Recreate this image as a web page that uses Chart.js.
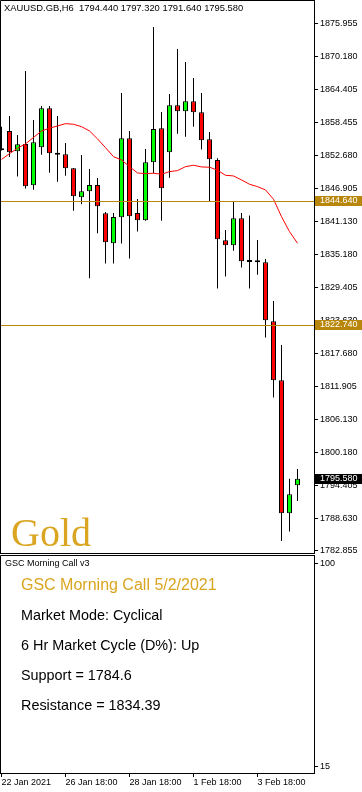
<!DOCTYPE html>
<html>
<head>
<meta charset="utf-8">
<title>XAUUSD.GB H6 - GSC Morning Call</title>
<script src="https://cdn.jsdelivr.net/npm/chart.js@4.4.1/dist/chart.umd.min.js"></script>
<style>
  html, body { margin: 0; padding: 0; background: #fff; }
  canvas { display: block; }
</style>
</head>
<body>
<canvas id="priceChart" width="362" height="555"></canvas>
<canvas id="callChart" width="362" height="237"></canvas>
<script>
const SYMBOL = "XAUUSD.GB,H6";

const CANDLE_TIMES = [
  "22 Jan 18:00",
  "25 Jan 00:00", "25 Jan 06:00", "25 Jan 12:00", "25 Jan 18:00",
  "26 Jan 00:00", "26 Jan 06:00", "26 Jan 12:00", "26 Jan 18:00",
  "27 Jan 00:00", "27 Jan 06:00", "27 Jan 12:00", "27 Jan 18:00",
  "28 Jan 00:00", "28 Jan 06:00", "28 Jan 12:00", "28 Jan 18:00",
  "29 Jan 00:00", "29 Jan 06:00", "29 Jan 12:00", "29 Jan 18:00",
  "1 Feb 00:00", "1 Feb 06:00", "1 Feb 12:00", "1 Feb 18:00",
  "2 Feb 00:00", "2 Feb 06:00", "2 Feb 12:00", "2 Feb 18:00",
  "3 Feb 00:00", "3 Feb 06:00", "3 Feb 12:00", "3 Feb 18:00",
  "4 Feb 00:00", "4 Feb 06:00", "4 Feb 12:00", "4 Feb 18:00",
  "5 Feb 00:00",
];

const OPEN = [
  1854.00, 1857.05, 1853.46, 1854.75, 1847.46, 1854.17, 1861.06, 1853.20, 1852.93, 1850.46,
  1845.34, 1846.40, 1847.51, 1842.51, 1837.21, 1841.80, 1855.76, 1842.56, 1841.27, 1851.52,
  1857.53, 1853.29, 1861.59, 1860.53, 1862.30, 1860.35, 1855.58, 1851.93, 1837.74, 1836.86,
  1841.63, 1834.25, 1834.21, 1833.85, 1823.43, 1813.00, 1789.51, 1794.44,
];
const HIGH = [
  1857.80, 1859.70, 1856.35, 1867.65, 1859.00, 1861.47, 1861.47, 1859.70, 1854.93, 1850.50,
  1852.81, 1850.34, 1848.75, 1842.74, 1842.56, 1863.76, 1857.05, 1845.04, 1853.87, 1875.43,
  1860.41, 1863.59, 1871.54, 1869.24, 1866.41, 1863.76, 1856.87, 1852.23, 1839.56, 1844.51,
  1842.56, 1842.09, 1837.79, 1834.44, 1827.02, 1819.24, 1795.57, 1797.32,
];
const LOW = [
  1853.60, 1852.46, 1848.98, 1846.86, 1846.68, 1852.86, 1849.68, 1848.09, 1849.15, 1842.97,
  1844.10, 1831.03, 1838.98, 1833.61, 1833.61, 1837.14, 1834.49, 1839.26, 1841.20, 1849.58,
  1841.20, 1848.80, 1856.57, 1856.04, 1857.81, 1853.75, 1844.68, 1829.19, 1831.31, 1835.90,
  1832.90, 1829.19, 1831.66, 1820.53, 1809.93, 1784.60, 1786.26, 1791.64,
];
const CLOSE = [
  1853.65, 1853.29, 1854.70, 1847.28, 1855.06, 1861.06, 1853.11, 1852.85, 1850.46, 1845.51,
  1846.40, 1847.51, 1843.75, 1837.39, 1841.86, 1855.76, 1841.98, 1841.27, 1851.52, 1857.40,
  1846.93, 1861.59, 1860.53, 1862.30, 1860.35, 1855.41, 1852.05, 1837.92, 1836.86, 1841.63,
  1834.03, 1833.90, 1833.85, 1823.61, 1813.00, 1789.51, 1792.86, 1795.58,
];

// red moving average
const MA = [
  1852.02, 1853.04, 1854.00, 1854.75, 1855.90, 1857.05, 1857.53, 1857.93, 1858.34, 1858.23,
  1857.81, 1857.05, 1855.64, 1854.10, 1852.51, 1851.93, 1850.74, 1849.63, 1849.51, 1849.58,
  1849.40, 1849.86, 1850.04, 1850.74, 1850.99, 1850.69, 1850.64, 1850.11, 1849.22, 1849.10,
  1848.40, 1847.63, 1847.21, 1846.63, 1844.98, 1841.91, 1839.26, 1837.21,
];

const PRICE_TICKS = [
  1875.955, 1870.180, 1864.405, 1858.455, 1852.680, 1846.905, 1841.130, 1835.180, 1829.405,
  1823.630, 1817.680, 1811.905, 1806.130, 1800.180, 1794.405, 1788.630, 1782.855,
];
const LEVELS = [1844.64, 1822.74];

const TIME_TICKS = [0, 8, 16, 24, 32];
const TIME_TICK_LABELS = ["22 Jan 2021", "26 Jan 18:00", "28 Jan 18:00", "1 Feb 18:00", "3 Feb 18:00"];

const PANEL_NAME = "GSC Morning Call v3";
const PANEL_TICKS = [15, 100];
const CALL_TITLE = "GSC Morning Call 5/2/2021";
const CALL_LINES = [
  "Market Mode: Cyclical",
  "6 Hr Market Cycle (D%): Up",
  "Support = 1784.6",
  "Resistance = 1834.39",
];

const SANS = "'Liberation Sans', Arial, sans-serif";
const GOLD_LINE = "#b8860b";
const GOLD_TEXT = "#daa520";
const UP = "#00ff00";
const DOWN = "#ff0000";

// view: 8px per bar, bar 0 sits 1.5px from the left edge
const X_MIN = -0.1875;
const X_MAX = X_MIN + 314 / 8;

Chart.defaults.font.family = SANS;
Chart.defaults.color = "#000";
Chart.defaults.animation = false;

const pts = (arr) => arr.map((v, i) => ({ x: i, y: v }));
const noPad = (s) => { s.paddingTop = 0; s.paddingBottom = 0; s.paddingLeft = 0; s.paddingRight = 0; };

function priceTag(ctx, area, scale, value, bg) {
  const y = scale.getPixelForValue(value);
  ctx.fillStyle = bg;
  ctx.fillRect(area.right + 1, Math.round(y) - 5, 47, 10);
  ctx.fillStyle = "#fff";
  ctx.font = `9px ${SANS}`;
  ctx.textAlign = "left";
  ctx.textBaseline = "middle";
  ctx.fillText(value.toFixed(3), area.right + 6, Math.round(y));
}

const priceOverlay = {
  id: "priceOverlay",
  afterDraw(chart) {
    const { ctx, chartArea: a, scales } = chart;
    const y = scales.y;
    ctx.save();

    // level lines
    ctx.strokeStyle = GOLD_LINE;
    ctx.lineWidth = 1;
    LEVELS.forEach((lv) => {
      const py = Math.round(y.getPixelForValue(lv)) + 0.5;
      ctx.beginPath();
      ctx.moveTo(a.left, py);
      ctx.lineTo(a.right, py);
      ctx.stroke();
    });

    // frame
    ctx.strokeStyle = "#000";
    ctx.beginPath();
    ctx.moveTo(a.left + 0.5, a.bottom + 0.5);
    ctx.lineTo(a.left + 0.5, a.top + 0.5);
    ctx.lineTo(a.right + 0.5, a.top + 0.5);
    ctx.moveTo(a.left, a.bottom + 0.5);
    ctx.lineTo(a.right + 1, a.bottom + 0.5);
    ctx.stroke();

    // header
    const n = CLOSE.length - 1;
    const head = `${SYMBOL}  ${OPEN[n].toFixed(3)} ${HIGH[n].toFixed(3)} ${LOW[n].toFixed(3)} ${CLOSE[n].toFixed(3)}`;
    ctx.fillStyle = "#000";
    ctx.font = `9.4px ${SANS}`;
    ctx.textAlign = "left";
    ctx.textBaseline = "middle";
    ctx.fillText(head, a.left + 4, a.top + 8);

    // watermark
    ctx.fillStyle = GOLD_TEXT;
    ctx.font = "40px 'Liberation Serif', 'Times New Roman', serif";
    ctx.textBaseline = "alphabetic";
    ctx.fillText("Gold", a.left + 11, a.bottom - 7);

    LEVELS.forEach((lv) => priceTag(ctx, a, y, lv, GOLD_LINE));
    priceTag(ctx, a, y, CLOSE[n], "#000");
    ctx.restore();
  },
};

new Chart(document.getElementById("priceChart"), {
  type: "bar",
  data: {
    datasets: [
      {
        type: "line",
        data: pts(MA),
        borderColor: "#ff0000",
        borderWidth: 1,
        pointRadius: 0,
        tension: 0,
        fill: false,
        order: 0,
      },
      {
        data: OPEN.map((o, i) => ({ x: i, y: [o, CLOSE[i]] })),
        backgroundColor: OPEN.map((o, i) => (CLOSE[i] >= o ? UP : DOWN)),
        borderColor: "#000",
        borderWidth: 1,
        borderSkipped: false,
        barThickness: 5,
        grouped: false,
        inflateAmount: 0,
        order: 1,
      },
      {
        data: LOW.map((l, i) => ({ x: i, y: [l, HIGH[i]] })),
        backgroundColor: "#000",
        borderWidth: 0,
        barThickness: 1,
        grouped: false,
        inflateAmount: 0,
        order: 2,
      },
    ],
  },
  options: {
    responsive: false,
    layout: { padding: { left: 0, right: 0, top: 0, bottom: 2 } },
    plugins: { legend: { display: false }, tooltip: { enabled: false } },
    scales: {
      x: { type: "linear", display: false, min: X_MIN, max: X_MAX, offset: false },
      y: {
        position: "right",
        min: 1782.47,
        max: 1880.19,
        afterBuildTicks: (s) => { s.ticks = PRICE_TICKS.map((v) => ({ value: v })); },
        afterFit: (s) => { s.width = 48; noPad(s); },
        ticks: { callback: (v) => Number(v).toFixed(3), font: { size: 9 }, color: "#000", padding: 2 },
        grid: { drawOnChartArea: false, drawTicks: true, tickLength: 4, color: "#000" },
        border: { display: true, color: "#000" },
      },
    },
  },
  plugins: [priceOverlay],
});

const callOverlay = {
  id: "callOverlay",
  afterDraw(chart) {
    const { ctx, chartArea: a } = chart;
    ctx.save();
    ctx.strokeStyle = "#000";
    ctx.lineWidth = 1;
    ctx.beginPath();
    ctx.moveTo(a.left + 0.5, a.bottom);
    ctx.lineTo(a.left + 0.5, a.top + 0.5);
    ctx.lineTo(a.right + 0.5, a.top + 0.5);
    ctx.stroke();

    ctx.textAlign = "left";
    ctx.textBaseline = "middle";
    ctx.fillStyle = "#000";
    ctx.font = `9px ${SANS}`;
    ctx.fillText(PANEL_NAME, a.left + 5, a.top + 9);

    ctx.fillStyle = GOLD_TEXT;
    ctx.font = `16px ${SANS}`;
    ctx.fillText(CALL_TITLE, a.left + 21, a.top + 31);

    ctx.fillStyle = "#000";
    ctx.font = `14.4px ${SANS}`;
    CALL_LINES.forEach((t, i) => ctx.fillText(t, a.left + 21, a.top + 61 + i * 30));
    ctx.restore();
  },
};

new Chart(document.getElementById("callChart"), {
  type: "line",
  data: { datasets: [{ data: [], pointRadius: 0 }] },
  options: {
    responsive: false,
    layout: { padding: 0 },
    plugins: { legend: { display: false }, tooltip: { enabled: false } },
    scales: {
      x: {
        type: "linear",
        position: "bottom",
        min: X_MIN,
        max: X_MAX,
        afterBuildTicks: (s) => { s.ticks = TIME_TICKS.map((v) => ({ value: v })); },
        afterFit: (s) => { s.height = 19; noPad(s); },
        ticks: {
          callback: (v, i) => TIME_TICK_LABELS[i],
          align: "start",
          maxRotation: 0,
          autoSkip: false,
          padding: 0,
          font: { size: 9 },
          color: "#000",
        },
        grid: { drawOnChartArea: false, drawTicks: true, tickLength: 4, color: "#000" },
        border: { display: true, color: "#000" },
      },
      y: {
        position: "right",
        min: 12.36,
        max: 103.77,
        afterBuildTicks: (s) => { s.ticks = PANEL_TICKS.map((v) => ({ value: v })); },
        afterFit: (s) => { s.width = 48; noPad(s); },
        ticks: { callback: (v) => String(v), font: { size: 9 }, color: "#000", padding: 2 },
        grid: { drawOnChartArea: false, drawTicks: true, tickLength: 4, color: "#000" },
        border: { display: true, color: "#000" },
      },
    },
  },
  plugins: [callOverlay],
});
</script>
</body>
</html>
